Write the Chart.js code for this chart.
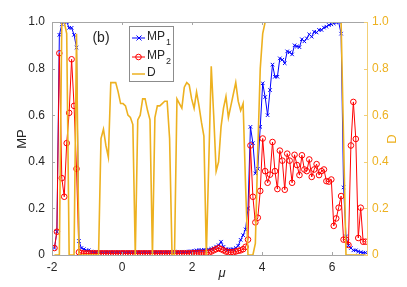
<!DOCTYPE html>
<html>
<head>
<meta charset="utf-8">
<script src="https://cdn.jsdelivr.net/npm/chart.js@4"></script>
<style>
  html, body { margin: 0; padding: 0; background: #fff; }
  #c { display: block; }
</style>
</head>
<body>
<canvas id="c" width="407" height="287"></canvas>
<script>
// mu grid (x axis)
const mu = [
  -1.93, -1.86, -1.79, -1.72, -1.65, -1.58, -1.51, -1.44, -1.37, -1.30,
  -1.23, -1.16, -1.09, -1.02, -0.95, -0.88, -0.81, -0.74, -0.67, -0.60,
  -0.53, -0.46, -0.39, -0.32, -0.25, -0.18, -0.11, -0.04, 0.03, 0.10,
  0.17, 0.24, 0.31, 0.38, 0.45, 0.52, 0.59, 0.66, 0.73, 0.80,
  0.87, 0.94, 1.01, 1.08, 1.15, 1.22, 1.29, 1.36, 1.43, 1.50,
  1.57, 1.64, 1.71, 1.78, 1.85, 1.92, 1.99, 2.06, 2.13, 2.20,
  2.27, 2.34, 2.41, 2.48, 2.55, 2.62, 2.69, 2.76, 2.83, 2.90,
  2.97, 3.04, 3.11, 3.18, 3.25, 3.32, 3.39, 3.46, 3.53, 3.60,
  3.67, 3.74, 3.81, 3.88, 3.95, 4.02, 4.09, 4.16, 4.23, 4.30,
  4.37, 4.44, 4.51, 4.58, 4.65, 4.72, 4.79, 4.86, 4.93, 5.00,
  5.07, 5.14, 5.21, 5.28, 5.35, 5.42, 5.49, 5.56, 5.63, 5.70,
  5.77, 5.84, 5.91, 5.98, 6.05, 6.12, 6.19, 6.26, 6.33, 6.40,
  6.47, 6.54, 6.61, 6.68, 6.75, 6.82, 6.89, 6.96
];

const mp1 = [
  0.03, 0.10, 0.945, 0.99, 1.0, 1.0, 0.975, 0.975, 0.945, 0.89,
  0.06, 0.03, 0.025, 0.02, 0.02, 0.015, 0.014, 0.013, 0.013, 0.012,
  0.012, 0.012, 0.012, 0.012, 0.012, 0.012, 0.012, 0.012, 0.012, 0.012,
  0.012, 0.012, 0.012, 0.012, 0.012, 0.012, 0.012, 0.012, 0.012, 0.012,
  0.012, 0.012, 0.012, 0.012, 0.012, 0.012, 0.012, 0.013, 0.013, 0.013,
  0.013, 0.013, 0.014, 0.014, 0.014, 0.015, 0.016, 0.018, 0.02, 0.02,
  0.021, 0.022, 0.022, 0.024, 0.026, 0.03, 0.036, 0.042, 0.057, 0.035,
  0.025, 0.024, 0.024, 0.025, 0.03, 0.04, 0.065, 0.085, 0.11, 0.20,
  0.55, 0.48, 0.35, 0.37, 0.55, 0.737, 0.678, 0.60, 0.708, 0.817,
  0.765, 0.765, 0.844, 0.838, 0.823, 0.874, 0.87, 0.861, 0.90, 0.895,
  0.892, 0.926, 0.917, 0.93, 0.947, 0.937, 0.958, 0.955, 0.966, 0.966,
  0.976, 0.98, 0.987, 0.99, 0.994, 0.998, 1.0, 0.95, 0.29, 0.08,
  0.04, 0.03, 0.02, 0.02, 0.015, 0.012, 0.01, 0.01
];

const mp2 = [
  0.03, 0.10, 0.866, 0.33, 0.25, 0.48, 0.61, 0.84, 0.64, 0.37,
  0.012, 0.008, 0.007, 0.007, 0.007, 0.007, 0.007, 0.007, 0.007, 0.007,
  0.007, 0.007, 0.007, 0.007, 0.007, 0.007, 0.007, 0.007, 0.007, 0.007,
  0.007, 0.007, 0.007, 0.007, 0.007, 0.007, 0.007, 0.007, 0.007, 0.007,
  0.007, 0.007, 0.007, 0.007, 0.007, 0.007, 0.007, 0.007, 0.007, 0.007,
  0.007, 0.007, 0.007, 0.007, 0.007, 0.007, 0.008, 0.008, 0.008, 0.009,
  0.009, 0.009, 0.009, 0.01, 0.015, 0.02, 0.025, 0.03, 0.025, 0.02,
  0.015, 0.012, 0.012, 0.012, 0.015, 0.018, 0.02, 0.025, 0.035, 0.066,
  0.47, 0.25, 0.14, 0.16, 0.275, 0.50, 0.36, 0.31, 0.345, 0.485,
  0.36, 0.283, 0.448, 0.405, 0.28, 0.435, 0.405, 0.31, 0.43, 0.386,
  0.343, 0.428, 0.367, 0.36, 0.41, 0.335, 0.367, 0.39, 0.343, 0.36,
  0.367, 0.317, 0.315, 0.324, 0.125, 0.157, 0.203, 0.253, 0.066, 0.066,
  0.043, 0.47, 0.657, 0.498, 0.073, 0.203, 0.057, 0.057
];

const dVals = [
  0, 0, 0, 1.0, 1.0, 0.95, 0, 0, 0, 0.95,
  0, 0, 0, 0, 0, 0, 0, 0, 0, 0.50,
  0.54, 0.47, 0.42, 0.74, 0.74, 0.74, 0.70, 0.65, 0.65, 0.64,
  0.60, 0.59, 0.56, 0, 0.58, 0.60, 0.67, 0.67, 0.62, 0.58,
  0, 0.59, 0.64, 0.64, 0.65, 0.66, 0.66, 0.50, 0, 0,
  0.67, 0.65, 0.63, 0.72, 0.74, 0.73, 0.67, 0.63, 0.70, 0.64,
  0.57, 0.51, 0, 0.40, 0.81, 0.60, 0.36, 0.40, 0.55, 0.63,
  0.68, 0.59, 0.64, 0.69, 0.74, 0.66, 0.62, 0.65, 0.30, 0,
  0, 0, 0.05, 0.45, 0.80, 0.95, 1.0, 1.0, 1.0, 1.0,
  1.0, 1.0, 1.0, 1.0, 1.0, 1.0, 1.0, 1.0, 1.0, 1.0,
  1.0, 1.0, 1.0, 1.0, 1.0, 1.0, 1.0, 1.0, 1.0, 1.0,
  1.0, 1.0, 1.0, 1.0, 1.0, 1.0, 1.0, 1.0, 0.5, 0,
  0, 0, 0, 0, 0, 0, 0, 0
];

const xTicks = [-2, 0, 2, 4, 6];
const yTicks = [0, 0.2, 0.4, 0.6, 0.8, 1];
const legendLabels = [['MP', '1'], ['MP', '2'], ['D', '']];

const BLUE = '#0000FF';
const RED = '#FF0000';
const ORANGE = '#EDB120';
const FONT = "'Liberation Sans', Arial, sans-serif";

const pts = ys => mu.map((x, i) => ({ x, y: ys[i] }));

// ── frame, ticks, labels, legend ─────────────────────────────
const decor = {
  id: 'decor',
  afterDatasetsDraw(chart) {
    const { ctx, chartArea: a, scales } = chart;
    ctx.save();
    ctx.lineWidth = 1;

    // box
    ctx.strokeStyle = '#a6a6a6';
    ctx.beginPath();
    ctx.moveTo(a.left + 0.5, a.bottom + 0.5);
    ctx.lineTo(a.left + 0.5, a.top + 0.5);
    ctx.lineTo(a.right, a.top + 0.5);
    ctx.moveTo(a.left, a.bottom + 0.5);
    ctx.lineTo(a.right, a.bottom + 0.5);
    ctx.stroke();
    ctx.strokeStyle = '#F2CF75';
    ctx.beginPath();
    ctx.moveTo(a.right + 0.5, a.top);
    ctx.lineTo(a.right + 0.5, a.bottom + 1);
    ctx.stroke();

    // tick marks (inside)
    ctx.strokeStyle = '#a6a6a6';
    ctx.beginPath();
    xTicks.forEach(v => {
      const px = Math.round(scales.x.getPixelForValue(v)) + 0.5;
      ctx.moveTo(px, a.bottom); ctx.lineTo(px, a.bottom - 3);
      ctx.moveTo(px, a.top); ctx.lineTo(px, a.top + 3);
    });
    yTicks.forEach(v => {
      const py = Math.round(scales.y.getPixelForValue(v)) + 0.5;
      ctx.moveTo(a.left, py); ctx.lineTo(a.left + 3, py);
    });
    ctx.stroke();
    ctx.strokeStyle = '#F2CF75';
    ctx.beginPath();
    yTicks.forEach(v => {
      const py = Math.round(scales.y1.getPixelForValue(v)) + 0.5;
      ctx.moveTo(a.right, py); ctx.lineTo(a.right - 3, py);
    });
    ctx.stroke();

    // axis titles
    ctx.fillStyle = '#262626';
    ctx.font = '13px ' + FONT;
    ctx.textAlign = 'center';
    ctx.textBaseline = 'middle';
    ctx.save();
    ctx.translate(22, 139);
    ctx.rotate(-Math.PI / 2);
    ctx.fillText('MP', 0, 0);
    ctx.restore();
    ctx.save();
    ctx.fillStyle = ORANGE;
    ctx.translate(392, 139);
    ctx.rotate(-Math.PI / 2);
    ctx.fillText('D', 0, 0);
    ctx.restore();
    ctx.font = 'italic 13px ' + FONT;
    ctx.fillText('\u03bc', 222, 273);

    // panel tag
    ctx.font = '14px ' + FONT;
    ctx.fillText('(b)', 101, 38);

    // legend
    const lx = 129.5, ly = 26.5, lw = 44, lh = 55;
    ctx.fillStyle = '#fff';
    ctx.fillRect(lx, ly, lw, lh);
    ctx.strokeStyle = '#8c8c8c';
    ctx.strokeRect(lx, ly, lw, lh);
    const rows = [38, 57, 74];
    const cols = [BLUE, RED, ORANGE];
    rows.forEach((ry, i) => {
      ctx.strokeStyle = cols[i];
      ctx.lineWidth = i === 2 ? 1.5 : 1;
      ctx.beginPath();
      ctx.moveTo(132, ry); ctx.lineTo(145, ry);
      ctx.stroke();
      ctx.lineWidth = 1;
      if (i === 0) {
        ctx.beginPath();
        ctx.moveTo(136.5, ry - 2.5); ctx.lineTo(141.5, ry + 2.5);
        ctx.moveTo(141.5, ry - 2.5); ctx.lineTo(136.5, ry + 2.5);
        ctx.stroke();
      } else if (i === 1) {
        ctx.beginPath();
        ctx.arc(138.5, ry, 2.8, 0, Math.PI * 2);
        ctx.stroke();
      }
      ctx.fillStyle = '#262626';
      ctx.textAlign = 'left';
      ctx.font = '12px ' + FONT;
      const [main, sub] = legendLabels[i];
      ctx.fillText(main, 147, ry - 1);
      if (sub) {
        const w = ctx.measureText(main).width;
        ctx.font = '9px ' + FONT;
        ctx.fillText(sub, 147 + w + 1, ry + 5);
      }
    });
    ctx.restore();
  }
};

new Chart(document.getElementById('c'), {
  type: 'line',
  data: {
    datasets: [
      {
        label: 'D',
        data: pts(dVals),
        yAxisID: 'y1',
        borderColor: ORANGE,
        borderWidth: 1.6,
        pointRadius: 0,
        tension: 0,
        order: 0
      },
      {
        label: 'MP2',
        data: pts(mp2),
        yAxisID: 'y',
        borderColor: RED,
        borderWidth: 1,
        pointStyle: 'circle',
        pointRadius: 2.8,
        pointBorderWidth: 1,
        pointBorderColor: RED,
        pointBackgroundColor: 'rgba(0,0,0,0)',
        tension: 0,
        order: 1
      },
      {
        label: 'MP1',
        data: pts(mp1),
        yAxisID: 'y',
        borderColor: BLUE,
        borderWidth: 1,
        pointStyle: 'crossRot',
        pointRadius: 2.5,
        pointBorderWidth: 1,
        pointBorderColor: BLUE,
        tension: 0,
        order: 2
      }
    ]
  },
  options: {
    responsive: false,
    animation: false,
    devicePixelRatio: 1,
    layout: { padding: { top: 22, left: 0, right: 0, bottom: 0 } },
    plugins: { legend: { display: false }, tooltip: { enabled: false } },
    scales: {
      x: {
        type: 'linear',
        min: -2, max: 7,
        grid: { display: false, drawTicks: false },
        border: { display: false },
        afterBuildTicks: s => { s.ticks = xTicks.map(v => ({ value: v })); },
        afterFit: s => { s.height = 32; },
        ticks: { color: '#262626', padding: 5, maxRotation: 0, font: { family: FONT, size: 12 } }
      },
      y: {
        position: 'left',
        min: 0, max: 1,
        grid: { display: false, drawTicks: false },
        border: { display: false },
        afterBuildTicks: s => { s.ticks = yTicks.map(v => ({ value: v })); },
        afterFit: s => { s.width = 52; },
        ticks: { color: '#262626', padding: 7, font: { family: FONT, size: 12 } }
      },
      y1: {
        position: 'right',
        min: 0, max: 1,
        grid: { display: false, drawTicks: false },
        border: { display: false },
        afterBuildTicks: s => { s.ticks = yTicks.map(v => ({ value: v })); },
        afterFit: s => { s.width = 40; },
        ticks: { color: ORANGE, padding: 5, font: { family: FONT, size: 12 } }
      }
    }
  },
  plugins: [decor]
});
</script>
</body>
</html>
